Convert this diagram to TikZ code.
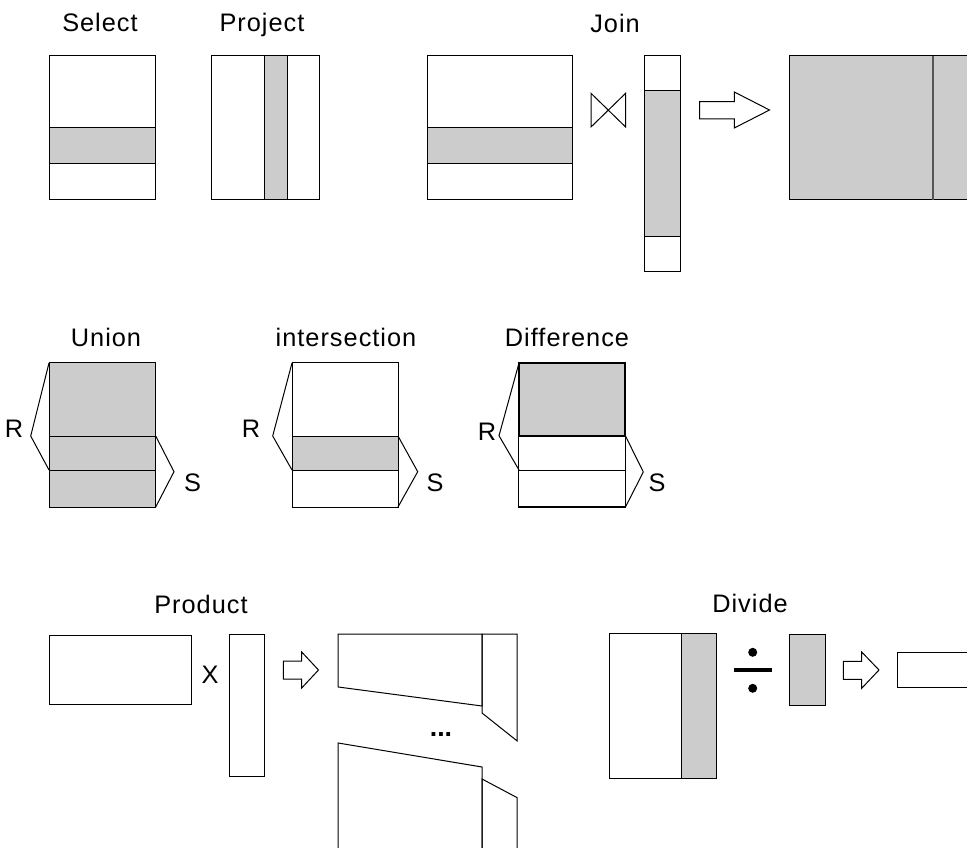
\documentclass[tikz,border=0pt]{standalone}
\usepackage{fontspec}
\newfontfamily\lblfont[LetterSpace=4]{Liberation Sans}
\newfontfamily\plainfont{Liberation Sans}
\definecolor{boxgray}{HTML}{CCCCCC}
\definecolor{sepgray}{HTML}{555555}
\tikzset{
  box/.style={draw=black, line width=0.75pt, fill=white},
  shaded/.style={draw=black, line width=0.75pt, fill=boxgray},
  thin/.style={draw=black, line width=0.75pt},
  title/.style={font=\lblfont\fontsize{19}{22}\selectfont, anchor=base, inner sep=0pt},
  letter/.style={font=\plainfont\fontsize{19}{22}\selectfont, anchor=base, inner sep=0pt},
  blockarrow/.style={draw=black, line width=0.75pt, fill=white, line join=miter},
}
\begin{document}
\begin{tikzpicture}[x=0.75pt,y=-0.75pt]
\useasboundingbox (0,0) rectangle (967,848);
\clip (0,0) rectangle (967,848);

% ---------- Select ----------
\node[title] (tselect) at (100,32) {Select};
\draw[box] (49,56) rectangle (155.7,200);
\draw[shaded] (49,128) rectangle (155.7,163.3);

% ---------- Project ----------
\node[title] (tproject) at (262,32) {Project};
\draw[box] (211.3,56) rectangle (319.3,200);
\draw[shaded] (264.7,56) rectangle (287.7,200);

% ---------- Join ----------
\node[title] (tjoin) at (615,33) {Join};
\draw[box] (427.8,56) rectangle (572.3,200);
\draw[shaded] (427.8,128) rectangle (572.3,163.3);
% bowtie
\draw[thin, line join=miter] (591,93.3) -- (625.6,127) -- (625.6,93.3) -- (591,127) -- cycle;
% tall relation
\draw[box] (644.8,56) rectangle (680.3,272);
\draw[shaded] (644.8,91) rectangle (680.3,236.7);
% arrow
\draw[blockarrow] (699.5,101.7) -- (734.3,101.7) -- (734.3,92) -- (769.5,110) -- (734.3,128) -- (734.3,119) -- (699.5,119) -- cycle;
% result
\draw[shaded] (789.7,56) rectangle (1000,200);
\draw[sepgray, line width=1.6pt] (933.3,56) -- (933.3,200);

% ---------- Union ----------
\node[title] (tunion) at (106,347) {Union};
\draw[shaded] (49,363) rectangle (155.7,507);
\draw[thin] (49,436) -- (155.7,436);
\draw[thin] (49,470) -- (155.7,470);
\draw[thin] (49,363) -- (30.7,436) -- (49,470);
\draw[thin] (155.7,436) -- (174,471.7) -- (155.7,507);
\node[letter] (ur) at (14,437) {R};
\node[letter] (us) at (192.5,491) {S};

% ---------- intersection ----------
\node[title] (tinter) at (346,347) {intersection};
\draw[box] (292,363) rectangle (398,507);
\draw[shaded] (292,436) rectangle (398,470);
\draw[thin] (292,363) -- (272.7,436) -- (292,470);
\draw[thin] (398,436) -- (417.7,471.7) -- (398,507);
\node[letter] (ir) at (251,437) {R};
\node[letter] (is) at (435,491) {S};

% ---------- Difference ----------
\node[title] (tdiff) at (567,347) {Difference};
\draw[shaded, line width=1pt] (519,363) rectangle (625,436);
\draw[box, line width=1.3pt] (518.5,436) rectangle (625.5,470.5);
\draw[box, line width=1.3pt] (518.5,470.5) rectangle (625.5,507);
\draw[thin] (519,363) -- (499,435.7) -- (519,470);
\draw[thin] (625.5,436) -- (643.3,472) -- (625.5,507);
\node[letter] (dr) at (487,440) {R};
\node[letter] (ds) at (657,491) {S};

% ---------- Product ----------
\node[title] (tproduct) at (201,613) {Product};
\draw[box] (49.2,635.3) rectangle (191.5,704.7);
\node[letter] (px) at (210,683) {X};
\draw[box] (229.7,634.7) rectangle (264.8,776.3);
\draw[blockarrow] (283.4,661) -- (301.7,661) -- (301.7,652) -- (318.5,670) -- (301.7,688) -- (301.7,679) -- (283.4,679) -- cycle;
% top result
\draw[thin, line join=miter] (338.2,634) -- (482,634) -- (482,706) -- (338.2,687) -- cycle;
\draw[thin, line join=miter] (482,634) -- (517.2,634) -- (517.2,741) -- (482,713) -- cycle;
\node[letter, font=\plainfont\bfseries\fontsize{20}{22}\selectfont] (pdots) at (441,736) {...};
% bottom result
\draw[thin, line join=miter] (338.2,900) -- (338.2,743) -- (482,767) -- (482,900);
\draw[thin, line join=miter] (482,900) -- (482,779) -- (517.2,797.7) -- (517.2,900);

% ---------- Divide ----------
\node[title] (tdivide) at (750,612) {Divide};
\draw[box] (609.3,633.3) rectangle (716,778);
\draw[shaded] (681.3,633.3) rectangle (716,778);
\draw[black, line width=2.4pt] (734,670) -- (771.7,670);
\fill[black] (752.7,652.3) circle[radius=4.5];
\fill[black] (752.7,688.3) circle[radius=4.5];
\draw[shaded] (789.3,634.7) rectangle (825,705.3);
\draw[blockarrow] (843.3,661.3) -- (861.7,661.3) -- (861.7,652) -- (879,670) -- (861.7,688.3) -- (861.7,679.3) -- (843.3,679.3) -- cycle;
\draw[box] (897.3,652.7) rectangle (1000,687.7);
\end{tikzpicture}
\end{document}
